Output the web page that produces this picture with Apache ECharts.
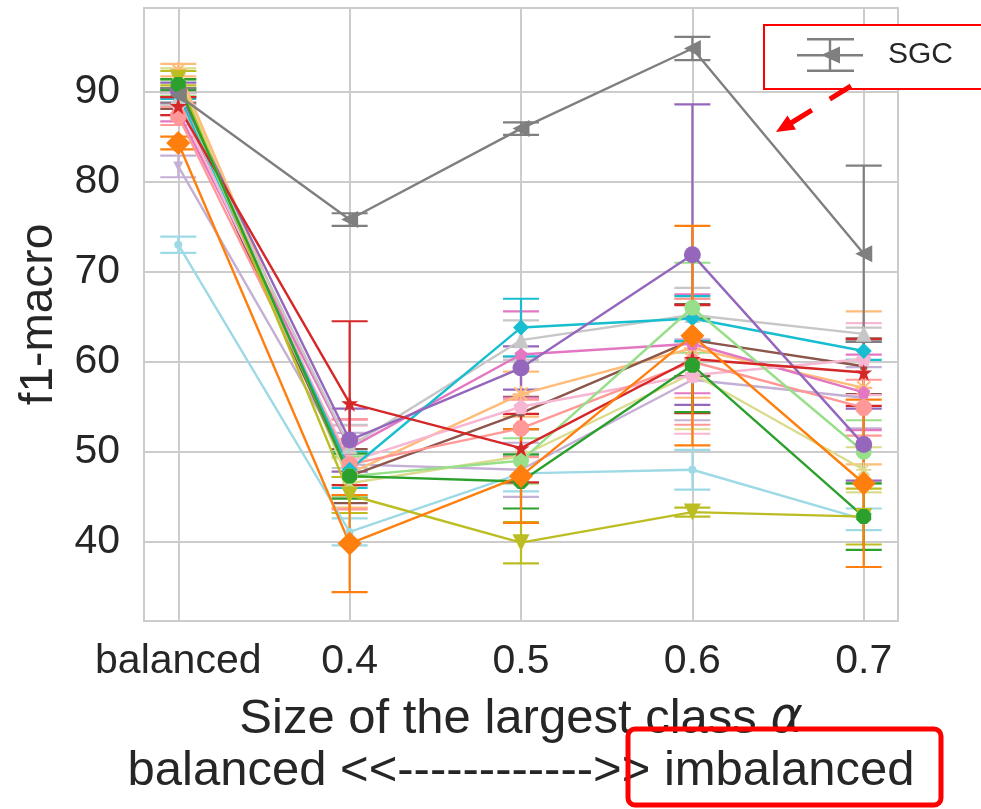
<!DOCTYPE html>
<html><head><meta charset="utf-8">
<script src="https://cdn.jsdelivr.net/npm/echarts@6/dist/echarts.min.js"></script>
<style>html,body{margin:0;padding:0;background:#fff}#c{width:981px;height:809px}</style>
</head><body><div id="c"></div>
<script>
// ---------- data ----------
const categories = ['balanced', '0.4', '0.5', '0.6', '0.7'];
const xTicks = [0, 1, 2, 3, 4];
const yTicks = [40, 50, 60, 70, 80, 90];

const sgcVals      = [89.6, 75.8, 85.9, 94.8, 72.0];
const sgcErr       = [0.8, 0.7, 0.7, 1.3, 9.8];
const lcyanVals    = [73.0, 41.1, 47.6, 48.0, 42.5];
const lcyanErr     = [0.9, 1.5, 2.0, 2.2, 1.2];
const cyanVals     = [89.8, 48.0, 63.8, 64.8, 61.2];
const cyanErr      = [0.6, 2.0, 3.2, 2.5, 1.0];
const purpleVals   = [90.2, 51.3, 59.3, 71.9, 50.8];
const purpleErr    = [0.8, 3.5, 2.4, 16.7, 4.0];
const redVals      = [88.4, 55.4, 50.4, 60.3, 58.8];
const redErr       = [1.0, 9.1, 3.8, 6.0, 3.7];
const orangeVals   = [84.3, 39.8, 47.3, 62.9, 46.5];
const orangeErr    = [0.7, 5.4, 5.2, 12.2, 9.3];
const greenVals    = [90.8, 47.3, 46.7, 59.6, 42.8];
const greenErr     = [0.6, 2.5, 3.0, 5.2, 3.7];
const oliveVals    = [91.5, 45.2, 39.9, 43.3, 42.8];
const oliveErr     = [0.8, 2.0, 2.3, 0.5, 3.1];
const lgreenVals   = [90.4, 47.3, 49.0, 66.0, 50.0];
const lgreenErr    = [0.9, 2.2, 2.5, 5.0, 3.5];
const lgrayVals    = [89.2, 50.6, 62.4, 65.2, 63.1];
const lgrayErr     = [0.7, 2.4, 2.2, 3.0, 0.7];
const brownVals    = [89.0, 47.3, 54.3, 62.4, 59.5];
const brownErr     = [0.9, 3.0, 1.8, 4.0, 3.1];
const pinkVals     = [87.7, 50.4, 60.8, 62.0, 56.6];
const pinkErr      = [1.0, 3.2, 4.8, 5.5, 4.2];
const lpinkVals    = [88.6, 48.9, 55.0, 58.5, 60.3];
const lpinkErr     = [1.2, 4.0, 5.5, 6.5, 4.0];
const lredVals     = [87.3, 48.6, 52.6, 60.0, 54.9];
const lredErr      = [1.0, 5.0, 3.2, 7.0, 3.1];
const lorangeVals  = [92.4, 47.6, 56.4, 61.5, 57.1];
const lorangeErr   = [0.7, 3.8, 2.5, 5.5, 8.5];
const lpurpleVals  = [81.7, 48.6, 48.0, 58.0, 56.0];
const lpurpleErr   = [1.2, 3.5, 3.0, 4.5, 3.4];
const loliveVals   = [92.0, 46.5, 49.5, 58.7, 48.0];
const loliveErr    = [0.6, 2.8, 3.0, 6.2, 2.5];

// ---------- styles ----------
const STAR = 'path://M50,0 L61.8,35.4 L99,35.4 L69,57.3 L80.4,92.7 L50,70.8 L19.6,92.7 L31,57.3 L1,35.4 L38.2,35.4 Z';
const OCT = 'path://M29,0 L71,0 L100,29 L100,71 L71,100 L29,100 L0,71 L0,29 Z';
const PENT = 'path://M50,0 L100,36 L81,95 L19,95 L0,36 Z';
const AST = 'path://M44,0 L56,0 L56,100 L44,100 Z M0,44 L100,44 L100,56 L0,56 Z M15,7 L93,85 L85,93 L7,15 Z M85,7 L93,15 L15,93 L7,85 Z';
const LEG = 'path://M0,16 L66,16 L66,18.5 L0,18.5 Z M31.8,0 L34.2,0 L34.2,34 L31.8,34 Z M10,0 L57,0 L57,2.5 L10,2.5 Z M10,31.5 L57,31.5 L57,34 L10,34 Z M24,17 L43,8.5 L43,25.5 Z';

const seriesDefs = [
  { name: 'A1', vals: lcyanVals,   errs: lcyanErr,   color: '#9edae5', symbol: 'circle',   size: 8 },
  { name: 'A2', vals: lpurpleVals, errs: lpurpleErr, color: '#c5b0d5', symbol: 'triangle', size: 10, rotate: 180 },
  { name: 'A3', vals: loliveVals,  errs: loliveErr,  color: '#dbdb8d', symbol: AST,        size: 15 },
  { name: 'A4', vals: lorangeVals, errs: lorangeErr, color: '#ffbb78', symbol: AST,        size: 17 },
  { name: 'A5', vals: brownVals,   errs: brownErr,   color: '#8c564b', symbol: 'rect',     size: 7 },
  { name: 'A6', vals: pinkVals,    errs: pinkErr,    color: '#e377c2', symbol: PENT,       size: 13 },
  { name: 'A7', vals: lpinkVals,   errs: lpinkErr,   color: '#f7b6d2', symbol: PENT,       size: 15 },
  { name: 'A8', vals: lredVals,    errs: lredErr,    color: '#ff9896', symbol: OCT,        size: 16 },
  { name: 'A9', vals: lgrayVals,   errs: lgrayErr,   color: '#c7c7c7', symbol: 'triangle', size: 16 },
  { name: 'A10', vals: cyanVals,   errs: cyanErr,    color: '#17becf', symbol: 'diamond',  size: 16 },
  { name: 'A11', vals: lgreenVals, errs: lgreenErr,  color: '#98df8a', symbol: 'circle',   size: 16 },
  { name: 'A12', vals: purpleVals, errs: purpleErr,  color: '#9467bd', symbol: 'circle',   size: 17 },
  { name: 'A13', vals: redVals,    errs: redErr,     color: '#d62728', symbol: STAR,       size: 17 },
  { name: 'A14', vals: oliveVals,  errs: oliveErr,   color: '#bcbd22', symbol: 'triangle', size: 17, rotate: 180 },
  { name: 'A15', vals: greenVals,  errs: greenErr,   color: '#2ca02c', symbol: OCT,        size: 15 },
  { name: 'A16', vals: orangeVals, errs: orangeErr,  color: '#ff7f0e', symbol: 'diamond',  size: 24 },
  { name: 'SGC', vals: sgcVals,    errs: sgcErr,     color: '#7f7f7f', symbol: 'triangle', size: 17, rotate: 90 }
];

function errSeries(d) {
  return {
    type: 'custom', name: d.name + ' err', z: 1, silent: true, animation: false,
    data: d.vals.map((v, i) => [xTicks[i], v - d.errs[i], v + d.errs[i]]),
    encode: { x: 0, y: [1, 2] },
    renderItem: function (params, api) {
      const x = api.value(0);
      const lo = api.coord([x, api.value(1)]);
      const hi = api.coord([x, api.value(2)]);
      const hw = 18;
      const st = { stroke: d.color, lineWidth: 2.2 };
      return { type: 'group', children: [
        { type: 'line', shape: { x1: lo[0], y1: lo[1], x2: hi[0], y2: hi[1] }, style: st },
        { type: 'line', shape: { x1: lo[0] - hw, y1: lo[1], x2: lo[0] + hw, y2: lo[1] }, style: st },
        { type: 'line', shape: { x1: hi[0] - hw, y1: hi[1], x2: hi[0] + hw, y2: hi[1] }, style: st }
      ]};
    }
  };
}
function lineSeries(d) {
  return {
    type: 'line', name: d.name, z: 2, animation: false,
    data: d.vals.map((v, i) => [xTicks[i], v]),
    symbol: d.symbol, symbolSize: d.size, symbolRotate: d.rotate || 0, showSymbol: true,
    lineStyle: { color: d.color, width: 2.4 }, itemStyle: { color: d.color },
    emphasis: { disabled: true }
  };
}

const series = [];
seriesDefs.forEach(d => series.push(errSeries(d)));
seriesDefs.forEach(d => series.push(lineSeries(d)));

const FONT = 'Liberation Sans';
const TXT = '#262626';

const chart = echarts.init(document.getElementById('c'), null, { renderer: 'canvas' });
chart.setOption({
  backgroundColor: '#ffffff',
  animation: false,
  textStyle: { fontFamily: FONT },
  grid: { left: 144, right: 83, top: 8, bottom: 188, show: true, borderColor: '#cccccc', borderWidth: 2, containLabel: false },
  xAxis: {
    type: 'value', min: -0.2, max: 4.2,
    axisLine: { show: false },
    axisTick: { show: false, customValues: xTicks },
    axisLabel: { customValues: xTicks, formatter: v => categories[Math.round(v)], fontSize: 41, color: TXT, margin: 20, fontFamily: FONT },
    splitLine: { show: true, lineStyle: { color: '#cccccc', width: 2 } },
    name: '{a|Size of the largest class }{i|α}\n{a|balanced <<------------>> imbalanced}',
    nameLocation: 'middle', nameGap: 72,
    nameTextStyle: {
      color: TXT, fontSize: 49, lineHeight: 52, fontFamily: FONT,
      rich: {
        a: { fontSize: 49, lineHeight: 52, color: TXT, fontFamily: FONT },
        i: { fontSize: 49, lineHeight: 52, color: TXT, fontFamily: 'DejaVu Sans', fontStyle: 'italic' }
      }
    }
  },
  yAxis: {
    type: 'value', min: 31.2, max: 99.3,
    axisLine: { show: false },
    axisTick: { show: false, customValues: yTicks },
    axisLabel: { customValues: yTicks, fontSize: 41, color: TXT, margin: 24, fontFamily: FONT },
    splitLine: { show: true, lineStyle: { color: '#cccccc', width: 2 } },
    name: 'f1-macro', nameLocation: 'middle', nameGap: 82, nameRotate: 90,
    nameTextStyle: { color: TXT, fontSize: 46, fontFamily: FONT }
  },
  legend: {
    data: [{ name: 'SGC', icon: LEG }],
    left: 797, top: 38, padding: 0, itemWidth: 66, itemHeight: 34,
    selectedMode: false,
    textStyle: { fontSize: 30, color: TXT, fontFamily: FONT, padding: [0, 0, 0, 20] }
  },
  graphic: [
    { type: 'rect', z: 3, shape: { x: 764, y: 25, width: 260, height: 64 }, style: { fill: '#ffffff', stroke: '#ff0000', lineWidth: 2 } },
    { type: 'line', z: 5, shape: { x1: 851, y1: 86, x2: 791, y2: 123 }, style: { stroke: '#ff0000', lineWidth: 5, lineDash: [25, 21] } },
    { type: 'polygon', z: 5, shape: { points: [[776, 132], [796, 129.5], [787.5, 115.5]] }, style: { fill: '#ff0000' } },
    { type: 'rect', z: 5, shape: { x: 628, y: 729, width: 313, height: 76, r: 7 }, style: { fill: 'none', stroke: '#ff0000', lineWidth: 5 } }
  ],
  series: series
});
</script>
</body></html>
